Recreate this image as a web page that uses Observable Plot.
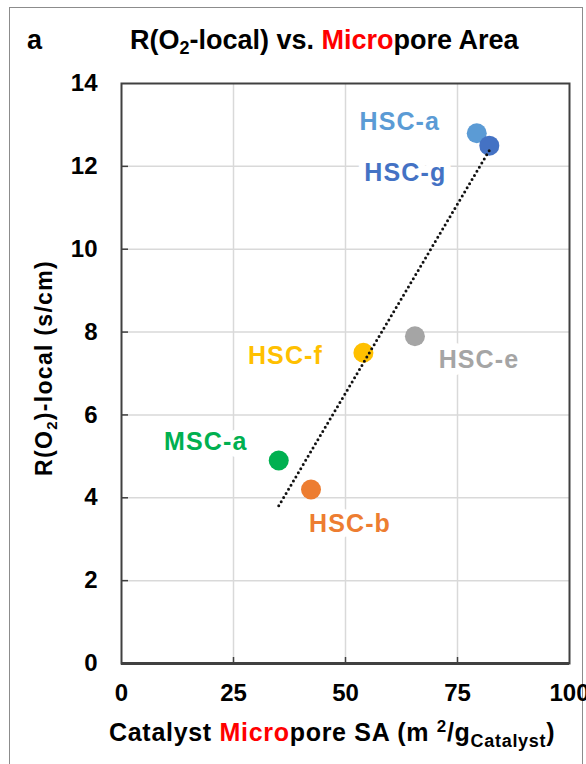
<!DOCTYPE html>
<html>
<head>
<meta charset="utf-8">
<script src="https://cdn.jsdelivr.net/npm/d3@7"></script>
<script src="https://cdn.jsdelivr.net/npm/@observablehq/plot@0.6"></script>
<style>
  body { margin: 0; background: #fff; }
  #wrap { position: relative; width: 586px; height: 764px; overflow: hidden; font-family: "Liberation Sans", Arial, sans-serif; }
  #panel { position: absolute; left: 9px; top: 7px; width: 574px; height: 800px; border: 1.5px solid #8c8c8c; box-sizing: border-box; }
  #chart { position: absolute; left: 0; top: 0; }
</style>
</head>
<body>
<div id="wrap"><div id="panel"></div><div id="chart"></div></div>
<script>
// Catalyst samples: micropore surface area (m²/g catalyst) vs. local O2 transport resistance (s/cm)
const samples = ["HSC-a", "HSC-g", "HSC-f", "HSC-e", "MSC-a", "HSC-b"];
const microporeSA = [79.3, 82.1, 54.0, 65.5, 35.1, 42.3];
const rO2Local = [12.8, 12.5, 7.5, 7.9, 4.9, 4.2];
const sampleColors = ["#5b9bd5", "#4472c4", "#ffc000", "#a5a5a5", "#00b050", "#ed7d31"];

const xTicks = [0, 25, 50, 75, 100];
const yTicks = [0, 2, 4, 6, 8, 10, 12, 14];

// Pixel offsets of each data label from its point
const labelOffsets = {
  "HSC-a": [-77, -11],
  "HSC-g": [-84, 27],
  "HSC-f": [-78, 3],
  "HSC-e": [64, 24],
  "MSC-a": [-73, -19],
  "HSC-b": [39, 34]
};

const data = samples.map((name, i) => ({ name, sa: microporeSA[i], r: rO2Local[i], color: sampleColors[i] }));

const gridStyle = { stroke: "#d9d9d9", strokeOpacity: 1, strokeWidth: 1.5 };

const plot = Plot.plot({
  width: 586,
  height: 764,
  marginLeft: 121,
  marginRight: 17,
  marginTop: 83,
  marginBottom: 101,
  style: { fontFamily: "'Liberation Sans', Arial, sans-serif", fontWeight: "bold", color: "#000", background: "transparent", overflow: "visible" },
  x: { domain: [0, 100], ticks: xTicks },
  y: { domain: [0, 14], ticks: yTicks },
  color: { type: "identity" },
  marks: [
    Plot.gridX(xTicks.slice(1, -1), gridStyle),
    Plot.gridY(yTicks.slice(1, -1), gridStyle),
    // inward tick marks
    Plot.axisX(xTicks.slice(1, -1), { tickSize: -6, tickFormat: () => "", label: null, stroke: "#404040", strokeWidth: 1.5 }),
    Plot.axisY(yTicks.slice(1, -1), { tickSize: -7, tickFormat: () => "", label: null, stroke: "#404040", strokeWidth: 1.5 }),
    // tick labels
    Plot.axisX({ ticks: xTicks, tickSize: 0, tickPadding: 20, fontSize: 24, label: null }),
    Plot.axisY({ ticks: yTicks, tickSize: 0, tickPadding: 24, fontSize: 24, label: null }),
    Plot.frame({ stroke: "#404040", strokeWidth: 2 }),
    Plot.ruleY([0], { stroke: "#404040", strokeWidth: 3 }),
    Plot.dot(data, { x: "sa", y: "r", r: 10, fill: "color" }),
    Plot.linearRegressionY(data, {
      x: "sa", y: "r", ci: 0,
      stroke: "#111", strokeWidth: 3, strokeDasharray: "0,4.8", strokeLinecap: "round"
    }),
    ...data.map(d => Plot.text([d], {
      x: "sa", y: "r", text: "name", fill: "color",
      dx: labelOffsets[d.name][0], dy: labelOffsets[d.name][1],
      fontSize: 25, fontWeight: "bold",
      stroke: "white", strokeWidth: 14, strokeLinejoin: "round", paintOrder: "stroke",
      className: "point-label"
    }))
  ]
});

document.getElementById("chart").appendChild(plot);

const svg = d3.select(plot);
const font = "'Liberation Sans', Arial, sans-serif";

// slightly spaced data labels
svg.selectAll(".point-label text").attr("letter-spacing", 1.1);

// panel letter
svg.append("text").attr("x", 27).attr("y", 49).attr("font-size", 27).attr("font-weight", "bold")
  .attr("text-anchor", "start").attr("font-family", font).attr("fill", "#000").text("a");

// title
const title = svg.append("text").attr("x", 130).attr("y", 49).attr("font-size", 27)
  .attr("text-anchor", "start").attr("font-weight", "bold").attr("font-family", font).attr("fill", "#000");
title.append("tspan").text("R(O");
title.append("tspan").attr("font-size", 18).attr("dy", 5).text("2");
title.append("tspan").attr("dy", -5).text("-local) vs. ");
title.append("tspan").attr("fill", "#ff0000").text("Micro");
title.append("tspan").text("pore Area");

// y-axis title
const yTitle = svg.append("text").attr("transform", "translate(52,368) rotate(-90)")
  .attr("text-anchor", "middle").attr("font-size", 23).attr("font-weight", "bold")
  .attr("letter-spacing", 1.3).attr("font-family", font).attr("fill", "#000");
yTitle.append("tspan").text("R(O");
yTitle.append("tspan").attr("font-size", 15).attr("dy", 5).text("2");
yTitle.append("tspan").attr("dy", -5).text(")-local (s/cm)");

// x-axis title
const xTitle = svg.append("text").attr("x", 109).attr("y", 741).attr("font-size", 25)
  .attr("letter-spacing", 0.7).attr("text-anchor", "start").attr("font-weight", "bold")
  .attr("font-family", font).attr("fill", "#000");
xTitle.append("tspan").text("Catalyst ");
xTitle.append("tspan").attr("fill", "#ff0000").text("Micro");
xTitle.append("tspan").text("pore SA (m ");
xTitle.append("tspan").attr("font-size", 17).attr("dy", -9).text("2");
xTitle.append("tspan").attr("dy", 9).text("/g");
xTitle.append("tspan").attr("font-size", 18).attr("dy", 6).text("Catalyst");
xTitle.append("tspan").attr("dy", -6).text(")");
</script>
</body>
</html>
